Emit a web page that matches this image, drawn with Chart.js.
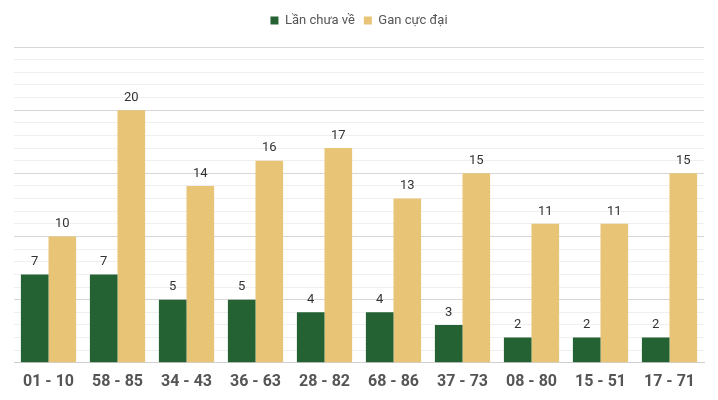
<!DOCTYPE html>
<html>
<head>
<meta charset="utf-8">
<script src="https://cdn.jsdelivr.net/npm/chart.js@4"></script>
<style>
  html, body { margin: 0; padding: 0; background: #fff; }
  #wrap { width: 718px; height: 400px; }
</style>
</head>
<body>
<div id="wrap"><canvas id="ganChart"></canvas></div>
<script>
// du lieu
const pairs = ["01 - 10", "58 - 85", "34 - 43", "36 - 63", "28 - 82", "68 - 86", "37 - 73", "08 - 80", "15 - 51", "17 - 71"];
const lanChuaVe = [7, 7, 5, 5, 4, 4, 3, 2, 2, 2];
const ganCucDai = [10, 20, 14, 16, 17, 13, 15, 11, 11, 15];

// ve so tren dau cot
const valueLabels = {
  id: "valueLabels",
  afterDatasetsDraw(chart) {
    const ctx = chart.ctx;
    ctx.save();
    ctx.font = "13px Roboto";
    ctx.fillStyle = "#333";
    ctx.textAlign = "center";
    ctx.textBaseline = "bottom";
    chart.data.datasets.forEach((ds, i) => {
      chart.getDatasetMeta(i).data.forEach((bar, j) => {
        ctx.fillText(ds.data[j], bar.x, bar.y - 6);
      });
    });
    ctx.restore();
  },
};

// them khoang trong duoi chu thich
const legendGap = {
  id: "legendGap",
  beforeInit(chart) {
    const fit = chart.legend.fit;
    chart.legend.fit = function () {
      fit.bind(chart.legend)();
      this.height += 10;
    };
  },
};

new Chart(document.getElementById("ganChart"), {
  type: "bar",
  data: {
    labels: pairs,
    datasets: [
      { label: "Lần chưa về", data: lanChuaVe, backgroundColor: "#246133" },
      { label: "Gan cực đại", data: ganCucDai, backgroundColor: "#e8c477" },
    ],
  },
  options: {
    responsive: true,
    maintainAspectRatio: false,
    animation: false,
    layout: { padding: { left: 14, right: 14, top: 5, bottom: 6 } },
    datasets: { bar: { categoryPercentage: 0.8, barPercentage: 1.0 } },
    plugins: {
      legend: {
        position: "top",
        labels: {
          boxWidth: 8,
          boxHeight: 8,
          padding: 9,
          color: "#555",
          font: { family: "Roboto", size: 13 },
        },
      },
      tooltip: { enabled: false },
    },
    scales: {
      x: {
        grid: { display: false },
        border: { color: "#d0d0d0" },
        ticks: {
          color: "#555",
          font: { family: "Roboto", size: 16, weight: "bold" },
          padding: 2,
        },
      },
      y: {
        min: 0,
        max: 25,
        ticks: { display: false, stepSize: 1 },
        border: { display: false },
        grid: {
          drawTicks: false,
          color: (c) => (c.tick.value % 5 === 0 ? "#d6d6d6" : "#efefef"),
        },
      },
    },
  },
  plugins: [valueLabels, legendGap],
});
</script>
</body>
</html>
